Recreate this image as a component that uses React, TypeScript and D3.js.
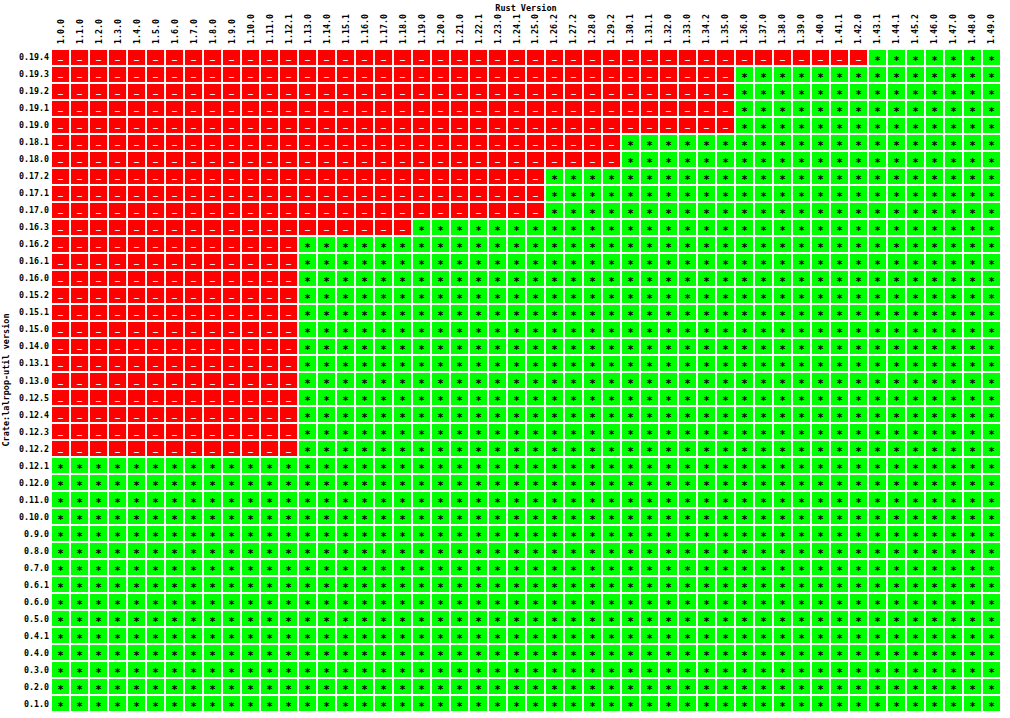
import React from "react";
import * as d3 from "d3";

const rustVersions = [
  "1.0.0", "1.1.0", "1.2.0", "1.3.0", "1.4.0", "1.5.0", "1.6.0", "1.7.0", "1.8.0", "1.9.0",
  "1.10.0", "1.11.0", "1.12.1", "1.13.0", "1.14.0", "1.15.1", "1.16.0", "1.17.0", "1.18.0", "1.19.0",
  "1.20.0", "1.21.0", "1.22.1", "1.23.0", "1.24.1", "1.25.0", "1.26.2", "1.27.2", "1.28.0", "1.29.2",
  "1.30.1", "1.31.1", "1.32.0", "1.33.0", "1.34.2", "1.35.0", "1.36.0", "1.37.0", "1.38.0", "1.39.0",
  "1.40.0", "1.41.1", "1.42.0", "1.43.1", "1.44.1", "1.45.2", "1.46.0", "1.47.0", "1.48.0", "1.49.0",
];

const crateVersions = [
  "0.19.4", "0.19.3", "0.19.2", "0.19.1", "0.19.0", "0.18.1", "0.18.0", "0.17.2", "0.17.1", "0.17.0",
  "0.16.3", "0.16.2", "0.16.1", "0.16.0", "0.15.2", "0.15.1", "0.15.0", "0.14.0", "0.13.1", "0.13.0",
  "0.12.5", "0.12.4", "0.12.3", "0.12.2", "0.12.1", "0.12.0", "0.11.0", "0.10.0", "0.9.0", "0.8.0",
  "0.7.0", "0.6.1", "0.6.0", "0.5.0", "0.4.1", "0.4.0", "0.3.0", "0.2.0", "0.1.0",
];

// Minimum Rust version that builds each crate version (same order as crateVersions)
const minRust = [
  "1.43.1", "1.36.0", "1.36.0", "1.36.0", "1.36.0", "1.30.1", "1.30.1", "1.26.2", "1.26.2", "1.26.2",
  "1.19.0", "1.13.0", "1.13.0", "1.13.0", "1.13.0", "1.13.0", "1.13.0", "1.13.0", "1.13.0", "1.13.0",
  "1.13.0", "1.13.0", "1.13.0", "1.13.0", "1.0.0", "1.0.0", "1.0.0", "1.0.0", "1.0.0", "1.0.0",
  "1.0.0", "1.0.0", "1.0.0", "1.0.0", "1.0.0", "1.0.0", "1.0.0", "1.0.0", "1.0.0",
];

const FONT = "'DejaVu Sans Mono', monospace";

export default function App() {
  const x = d3.scaleBand<string>().domain(rustVersions).range([52, 1000]).paddingInner(0.1).paddingOuter(0);
  const y = d3.scaleBand<string>().domain(crateVersions).range([50, 711]).paddingInner(0.12).paddingOuter(0);
  const bw = x.bandwidth();
  const bh = y.bandwidth();

  const cells: { r: string; c: string; ok: boolean }[] = [];
  crateVersions.forEach((r, i) => {
    const minIdx = rustVersions.indexOf(minRust[i]);
    rustVersions.forEach((c, j) => {
      cells.push({ r, c, ok: j >= minIdx });
    });
  });

  return (
    <svg
      width={1010}
      height={718}
      style={{ position: "absolute", left: 0, top: 0, display: "block", background: "#fff" }}
    >
      <text x={526} y={11} textAnchor="middle" fontFamily={FONT} fontSize={8.5} fontWeight="bold" fill="#000">
        Rust Version
      </text>
      <text
        transform={`translate(9, 380) rotate(-90)`}
        textAnchor="middle"
        fontFamily={FONT}
        fontSize={8.5}
        fontWeight="bold"
        fill="#000"
      >
        Crate:lalrpop-util version
      </text>
      {rustVersions.map((c) => (
        <text
          key={c}
          transform={`translate(${(x(c) as number) + bw / 2 + 3}, 44) rotate(-90)`}
          textAnchor="start"
          fontFamily={FONT}
          fontSize={8.3}
          fontWeight="bold"
          fill="#000"
        >
          {c}
        </text>
      ))}
      {crateVersions.map((r) => (
        <text
          key={r}
          x={49}
          y={(y(r) as number) + bh / 2 + 3}
          textAnchor="end"
          fontFamily={FONT}
          fontSize={8.3}
          fontWeight="bold"
          fill="#000"
        >
          {r}
        </text>
      ))}
      {cells.map((d) => {
        const cx = (x(d.c) as number);
        const cy = (y(d.r) as number);
        return (
          <g key={d.r + "_" + d.c}>
            <rect x={cx} y={cy} width={bw} height={bh} fill={d.ok ? "#00ff00" : "#ff0000"} />
            <text
              x={cx + bw / 2}
              y={d.ok ? cy + bh / 2 + 6.5 : cy + bh / 2 + 2}
              textAnchor="middle"
              fontFamily={FONT}
              fontSize={d.ok ? 11 : 8.3}
              fontWeight="bold"
              fill={d.ok ? "#000" : "#fff"}
            >
              {d.ok ? "*" : "_"}
            </text>
          </g>
        );
      })}
    </svg>
  );
}
